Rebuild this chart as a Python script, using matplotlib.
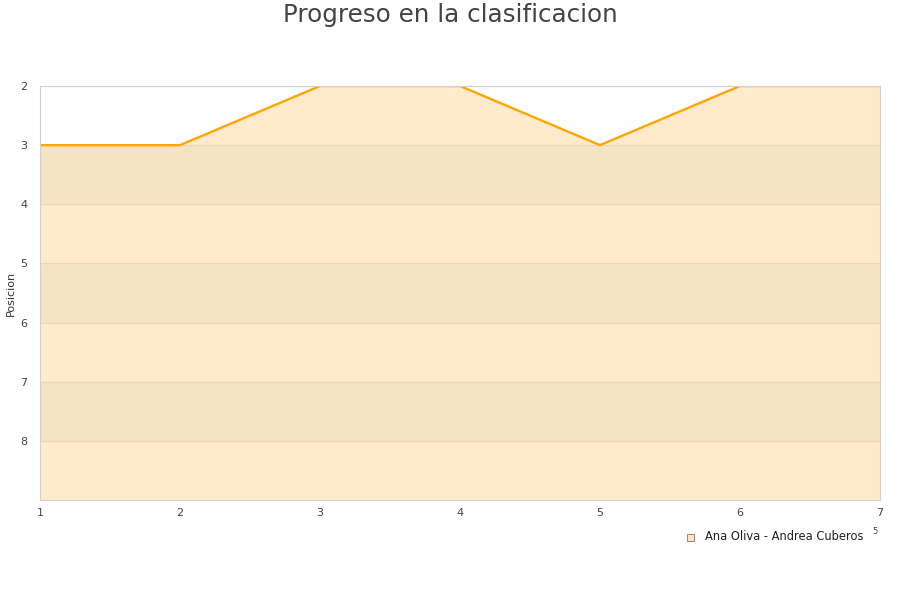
import matplotlib
matplotlib.use("Agg")
import matplotlib.pyplot as plt
from matplotlib.patches import Rectangle

jornadas = [1, 2, 3, 4, 5, 6, 7]
posicion = [3, 3, 2, 2, 3, 2, 2]
serie = "Ana Oliva - Andrea Cuberos"
yticks = [2, 3, 4, 5, 6, 7, 8]

fig = plt.figure(figsize=(9, 6), dpi=100)
ax = fig.add_axes([40/900, 1-500/600, 840/900, 414/600])

ax.set_xlim(1, 7)
ax.set_ylim(9, 2)

# alternating bands
for lo in [3, 5, 7]:
    ax.axhspan(lo, lo + 1, color="#F5E3C3", zorder=1, lw=0)
ax.fill_between(jornadas, posicion, 9, color="#FFEBCB", zorder=0.5, lw=0)
for y in range(3, 9):
    ax.axhline(y, color="#EAD7B5", lw=0.8, zorder=1.5)
ax.plot(jornadas, posicion, color="#FFA500", lw=1.7, zorder=3, solid_capstyle="butt")

ax.set_xticks(jornadas)
ax.set_yticks(yticks)
ax.tick_params(axis="both", length=0, labelsize=8, colors="#444444", pad=6)
ax.tick_params(axis="y", pad=9)
for s in ax.spines.values():
    s.set_color("#D0D0D0")
    s.set_linewidth(0.8)
    s.set_zorder(4)

fig.text(11/900, 1-293/600, "Posicion", rotation=90, fontsize=8, color="#333333",
         ha="center", va="center")
fig.text(0.5, 1-15/600, "Progreso en la clasificacion", ha="center", va="center",
         fontsize=17.7, color="#444444")

# legend
fig.patches.append(Rectangle((687/900, 1-541/600), 7/900, 7/600, transform=fig.transFigure,
                             facecolor="#FFE4B5", edgecolor="#777777", lw=0.6))
fig.text(705/900, 1-537/600, serie, fontsize=8.3, va="center", ha="left", color="#222222")
fig.text(875/900, 1-532/600, "5", fontsize=6, va="center", ha="center", color="#444444")

fig.savefig("out.png", dpi=100, facecolor="white")
